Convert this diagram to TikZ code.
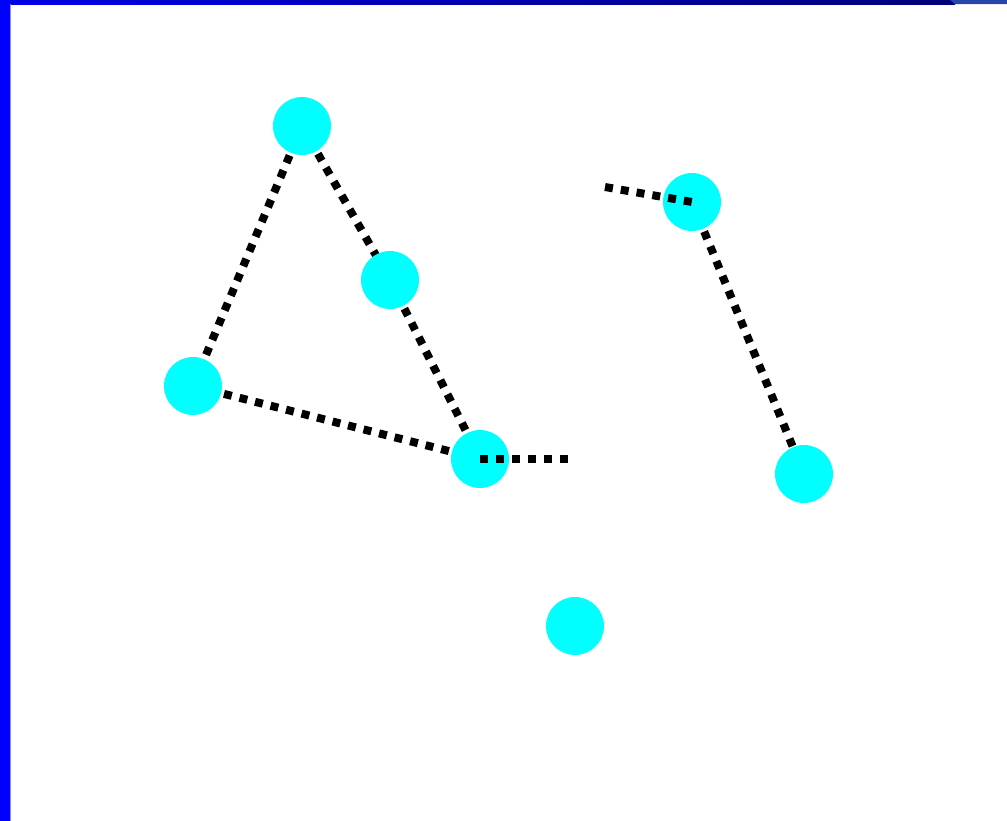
\documentclass[tikz,border=0pt]{standalone}
\usetikzlibrary{backgrounds}
\definecolor{barblue}{RGB}{0,0,230}
\definecolor{barnavy}{RGB}{0,0,120}
\definecolor{cornerblue}{RGB}{40,70,170}
\definecolor{edgeblue}{RGB}{140,140,255}
\definecolor{aqua}{RGB}{0,255,255}
\begin{document}
\begin{tikzpicture}[x=0.75pt,y=-0.75pt,
  dot/.style={circle,fill=aqua,draw=none,minimum size=58*0.75pt,inner sep=0pt},
  link/.style={line width=6pt,dash pattern=on 6pt off 6pt,black}]
\useasboundingbox (0,0) rectangle (1007,821);
% nodes
\node[dot] (a) at (302,126) {};
\node[dot] (b) at (390,280) {};
\node[dot] (c) at (193,386) {};
\node[dot] (d) at (480,459) {};
\node[dot] (e) at (692,202) {};
\node[dot] (f) at (804,474) {};
\node[dot] (g) at (575,626) {};
\coordinate (p) at (574,459);
\coordinate (q) at (605,187);
\begin{scope}[on background layer]
  \fill[white] (0,0) rectangle (1007,821);
  \shade[left color=barblue,right color=barnavy] (0,0) rectangle (955,4);
  \fill[cornerblue] (950,0) -- (1007,0) -- (1007,4) -- (955,4) -- cycle;
  \fill[blue] (0,0) rectangle (10,821);
  \fill[edgeblue] (10,4) rectangle (11,821);
  \draw[link] (a.center) -- (c.center);
  \draw[link] (a.center) -- (b.center);
  \draw[link] (b.center) -- (d.center);
  \draw[link] (c.center) -- (d.center);
  \draw[link] (e.center) -- (f.center);
\end{scope}
\draw[link] (d.center) -- (p);
\draw[link] (q) -- (e.center);
\end{tikzpicture}
\end{document}
